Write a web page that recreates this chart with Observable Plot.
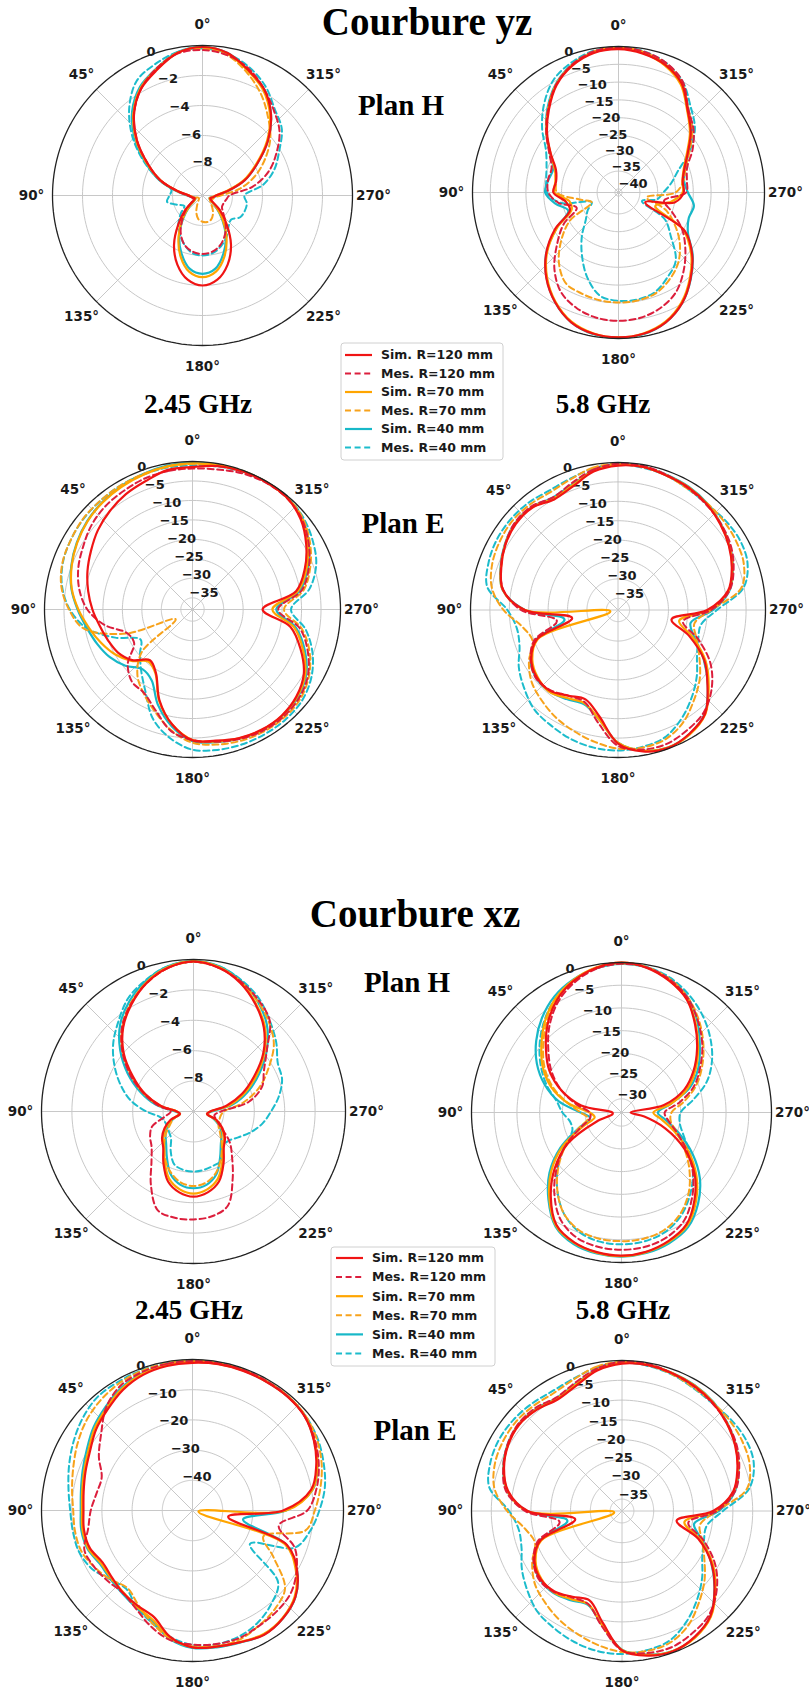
<!DOCTYPE html>
<html>
<head>
<meta charset="utf-8">
<script src="https://cdn.jsdelivr.net/npm/d3@7"></script>
<script src="https://cdn.jsdelivr.net/npm/@observablehq/plot@0.6"></script>
<style>
  body { margin: 0; background: #fff; }
  #page { position: relative; width: 809px; height: 1690px; overflow: hidden; background: #fff; }
  #overlay { position: absolute; left: 0; top: 0; pointer-events: none; }
</style>
</head>
<body>
<div id="page"></div>
<script>
// ---------- categories ----------
const angles = [0,10,20,30,40,50,60,70,80,90,100,110,120,130,140,150,160,170,180,190,200,210,220,230,240,250,260,270,280,290,300,310,320,330,340,350];
const angleTicks = [0,45,90,135,180,225,270,315];
const seriesLabels = ["Sim. R=120 mm","Mes. R=120 mm","Sim. R=70 mm","Mes. R=70 mm","Sim. R=40 mm","Mes. R=40 mm"];

// ---------- Courbure yz, Plan H, 2.45 GHz (dB) ----------
const yzH245_ticks = [0,-2,-4,-6,-8];
const yzH245_min = -10;
const yzH245_sim120 = [-0.1,-0.35,-1.1,-1.8,-2.9,-4.3,-5.8,-7.0,-8.3,-9.1,-9.3,-9.45,-9.3,-8.5,-7.5,-6.2,-5.1,-4.3,-4.0,-4.3,-5.1,-6.2,-7.5,-8.5,-9.3,-9.45,-9.3,-9.1,-8.3,-7.0,-5.8,-4.3,-2.9,-1.8,-1.1,-0.35];
const yzH245_mes120 = [-0.3,-0.4,-1.0,-1.8,-2.9,-4.3,-5.8,-7.0,-8.3,-9.0,-9.3,-9.3,-9.2,-8.6,-7.9,-7.1,-6.5,-6.2,-6.1,-6.2,-6.5,-7.0,-7.6,-8.2,-8.5,-8.5,-8.4,-8.2,-6.6,-5.3,-4.3,-3.3,-2.6,-1.8,-1.0,-0.5];
const yzH245_sim70 = [-0.1,-0.35,-1.05,-1.75,-2.85,-4.25,-5.75,-7.0,-8.3,-9.1,-9.35,-9.5,-9.4,-8.8,-7.9,-6.8,-5.7,-4.85,-4.56,-4.85,-5.7,-6.8,-7.9,-8.8,-9.4,-9.5,-9.35,-9.1,-8.4,-7.1,-5.9,-4.4,-3.0,-1.9,-1.15,-0.4];
const yzH245_mes70 = [-0.2,-0.35,-1.0,-1.75,-2.85,-4.2,-5.7,-7.0,-8.3,-9.1,-9.4,-9.6,-9.7,-9.7,-9.6,-9.3,-8.8,-8.4,-8.25,-8.2,-8.3,-8.6,-9.0,-9.3,-9.4,-9.3,-9.2,-8.8,-7.5,-6.3,-5.2,-4.1,-3.2,-2.2,-1.3,-0.5];
const yzH245_sim40 = [-0.1,-0.3,-1.0,-1.65,-2.7,-4.1,-5.6,-6.9,-8.2,-9.0,-9.3,-9.5,-9.4,-8.85,-8.0,-6.9,-5.9,-5.05,-4.78,-5.05,-5.9,-6.9,-8.0,-8.85,-9.4,-9.5,-9.3,-9.0,-8.3,-7.0,-5.8,-4.3,-2.9,-1.8,-1.1,-0.35];
const yzH245_mes40 = [-0.2,-0.3,-0.7,-1.2,-2.4,-3.9,-5.5,-6.9,-7.9,-7.8,-7.6,-8.2,-8.6,-8.1,-7.5,-7.0,-6.5,-6.1,-6.0,-6.1,-6.4,-6.8,-7.3,-7.5,-7.1,-7.0,-7.0,-7.2,-5.9,-4.9,-4.1,-3.1,-2.5,-1.6,-0.9,-0.4];

// ---------- Courbure yz, Plan H, 5.8 GHz ----------
const yzH58_ticks = [0,-5,-10,-15,-20,-25,-30,-35,-40];
const yzH58_min = -41;
const yzH58_sim120 = [-0.75,-1.2,-3.1,-6.2,-10.6,-14.8,-19,-22.3,-23.2,-22.7,-26,-26.5,-20.4,-14.5,-9.5,-5.4,-2.2,-0.7,-0.3,-0.7,-2.2,-5.2,-9.5,-14,-19.5,-33,-25,-22.7,-22.7,-21.3,-18.5,-14.5,-10.8,-5.6,-2.8,-1.4];
const yzH58_mes120 = [-0.3,-0.8,-2.8,-6.0,-10.3,-14.5,-18.5,-21,-20.9,-21.3,-24,-28.5,-23.2,-18.5,-13,-8.7,-6.5,-5.3,-4.95,-5.3,-6.5,-8.7,-12.5,-16.5,-20.4,-25,-28,-22,-21.5,-20.5,-17,-13.5,-10.5,-5,-2.2,-0.8];
const yzH58_sim70 = [-0.3,-1.0,-2.9,-6.0,-10.3,-14.6,-18.8,-22.0,-23.0,-23.0,-27,-27,-21,-14.8,-9.8,-5.6,-2.4,-0.8,-0.3,-0.8,-2.4,-5.5,-9.8,-14.4,-20,-30,-26,-23,-22.8,-21.5,-18.8,-14.8,-11,-6,-3,-1.2];
const yzH58_mes70 = [-0.2,-0.8,-2.9,-6,-10.3,-14.6,-19,-22,-23.2,-23.7,-29.8,-33,-25.3,-20,-15,-11.5,-10.8,-10.3,-10.1,-10.2,-10.8,-12.6,-15,-18.5,-22.7,-27,-33,-25,-22.5,-21,-18,-14,-10.5,-5.5,-2.6,-0.9];
const yzH58_sim40 = [-0.3,-0.9,-2.8,-5.8,-10,-14.5,-18.7,-21.5,-21,-20.4,-23,-26,-20.8,-14.5,-9.6,-5.4,-2.2,-0.6,-0.2,-0.6,-2.2,-5.2,-9.4,-13.8,-18.5,-20,-19.5,-21.5,-22.3,-21,-18.3,-14,-10.5,-5.5,-2.8,-1.1];
const yzH58_mes40 = [-0.2,-0.6,-2.2,-4.5,-8.5,-13,-17.5,-19.5,-20.4,-20.9,-24.4,-33,-31,-29,-25,-20.5,-15.5,-11.5,-10.6,-10.5,-11.2,-13.5,-16,-21.8,-26,-34,-30,-28.4,-26,-23.2,-18,-13,-9.5,-5,-2.2,-0.7];

// ---------- Courbure yz, Plan E, 2.45 GHz ----------
const yzE245_ticks = [0,-5,-10,-15,-20,-25,-30,-35];
const yzE245_min = -38;
const yzE245_sim120 = [-1.4,-1.6,-2.9,-3.8,-5.0,-6.3,-7.9,-9.3,-10.8,-12.3,-13.8,-14.9,-15.9,-17.8,-21,-19.2,-13.2,-8.0,-4.4,-3.8,-2.9,-2.4,-2.4,-3.2,-5.0,-8.5,-12.5,-20,-11,-7.3,-4.3,-1.8,-0.4,-0.2,-0.3,-0.6];
const yzE245_mes120 = [-1.8,-1.9,-2.2,-2.8,-3.3,-4.2,-5.6,-6.8,-8.5,-11.0,-15.1,-20.2,-20.7,-16.3,-13.8,-13.2,-10.4,-6.3,-4.5,-3.5,-2.6,-2.0,-1.9,-2.4,-3.8,-6.5,-10,-16,-9.5,-6.2,-3.6,-1.5,-0.5,-0.4,-0.8,-1.5];
const yzE245_sim70 = [-0.5,-0.7,-1.2,-1.6,-2.1,-2.8,-3.8,-5.0,-6.5,-8.7,-11.0,-13.0,-15.0,-17.5,-20.5,-19.0,-13.0,-8.0,-4.5,-3.6,-2.8,-2.3,-2.3,-3.0,-4.6,-7.8,-11.5,-17.5,-10.5,-6.8,-3.8,-1.5,-0.4,-0.2,-0.2,-0.3];
const yzE245_mes70 = [-0.6,-0.8,-1.0,-1.2,-1.4,-1.5,-2.0,-2.5,-3.8,-6.3,-9.7,-20,-33,-21,-16,-13,-10,-6.5,-3.8,-2.8,-2.1,-1.7,-1.6,-2.0,-3.5,-6,-9.5,-14.5,-9,-5.8,-3.2,-1.2,-0.3,-0.2,-0.3,-0.5];
const yzE245_sim40 = [-0.3,-0.5,-1.0,-1.4,-2.0,-2.7,-3.7,-4.9,-6.4,-8.5,-10.5,-12.0,-13.5,-15.5,-18.0,-17.0,-12.0,-7.5,-4.2,-3.4,-2.7,-2.2,-2.2,-2.8,-4.3,-7.3,-11,-16.5,-10,-6.5,-3.6,-1.3,-0.3,-0.2,-0.2,-0.3];
const yzE245_mes40 = [-1.0,-1.0,-1.1,-1.2,-1.4,-1.6,-2.0,-2.6,-4.0,-6.5,-10.4,-16.9,-22.6,-20.4,-17.5,-13.8,-8.2,-4.5,-2.0,-1.4,-1.1,-1.0,-1.0,-1.4,-2.8,-5.2,-8.5,-12.7,-7.5,-4.2,-2.4,-1.0,-0.3,-0.2,-0.4,-0.7];

// ---------- Courbure yz, Plan E, 5.8 GHz ----------
const yzE58_ticks = [0,-5,-10,-15,-20,-25,-30,-35];
const yzE58_min = -38;
const yzE58_sim120 = [-0.8,-1.8,-4.1,-5.1,-3.6,-3.6,-4.5,-6.0,-7.9,-14,-26,-15.7,-12.2,-10.8,-10.8,-12.5,-13.5,-10.2,-3.6,-1.0,-0.2,-1.2,-3.1,-7.9,-12.4,-18.5,-24,-15,-9.2,-6.8,-5.0,-3.6,-2.4,-1.6,-1.2,-0.6];
const yzE58_mes120 = [-0.3,-1.3,-3.2,-4.5,-3.2,-3.2,-4.4,-5.9,-8.0,-13,-22,-15,-12,-10.5,-11,-12.5,-12.8,-8.5,-3.0,-1.5,-1.3,-2.3,-3.6,-6.5,-10.5,-16,-21,-14,-8.8,-6.3,-4.5,-3.4,-2.6,-1.8,-1.0,-0.3];
const yzE58_sim70 = [-0.6,-1.6,-3.8,-4.8,-3.5,-3.4,-4.4,-5.9,-7.8,-14,-36,-16,-12.5,-11,-10.5,-11.8,-12.5,-9.5,-3.8,-1.2,-0.3,-1.0,-3.0,-7.5,-12,-17.5,-22,-14.5,-9,-6.6,-4.9,-3.5,-2.3,-1.5,-1.1,-0.5];
const yzE58_mes70 = [-0.3,-0.8,-2.2,-3.0,-2.6,-2.4,-2.8,-3.5,-5.0,-8.5,-13,-14.6,-11.5,-9.0,-7.5,-6.0,-4.8,-3.5,-2.3,-2.0,-2.5,-4.5,-7.6,-10.5,-13.8,-16.5,-18,-14,-5.8,-3.5,-2.8,-2.4,-2.2,-2.0,-1.2,-0.6];
const yzE58_sim40 = [-0.5,-1.5,-3.6,-4.5,-3.4,-3.3,-4.3,-5.8,-7.8,-14,-24,-15.5,-12,-10.6,-10.6,-11.5,-12.2,-9.5,-3.8,-1.2,-0.3,-1.1,-3.2,-7.8,-12.5,-17,-19,-13.5,-8.8,-6.5,-4.8,-3.4,-2.2,-1.4,-1.0,-0.5];
const yzE58_mes40 = [-0.5,-1.0,-2.0,-2.5,-2.0,-1.8,-1.9,-2.5,-3.8,-9.5,-11.5,-11,-8.5,-6.5,-4.5,-3.6,-2.6,-2.0,-1.8,-2.2,-3.0,-5.5,-8.5,-11.5,-14.5,-16,-16.3,-12.5,-5.2,-2.5,-1.8,-2.0,-2.4,-2.0,-1.2,-0.8];

// ---------- Courbure xz, Plan H, 2.45 GHz ----------
const xzH245_ticks = [0,-2,-4,-6,-8];
const xzH245_min = -10;
const xzH245_sim120 = [-0.13,-0.4,-1.0,-1.85,-2.8,-4.0,-5.4,-6.6,-7.8,-8.9,-9.1,-8.4,-7.8,-7.3,-6.9,-6.05,-5.1,-4.6,-4.4,-4.6,-5.1,-6.05,-6.9,-7.3,-7.8,-8.4,-9.1,-8.9,-7.8,-6.6,-5.4,-4.0,-2.8,-1.85,-1.0,-0.4];
const xzH245_mes120 = [-0.15,-0.4,-1.0,-1.8,-2.7,-3.9,-5.2,-6.5,-7.6,-8.5,-8.1,-7.1,-6.7,-6.4,-5.7,-4.4,-3.1,-2.9,-2.9,-3.0,-3.4,-4.85,-6.05,-6.9,-7.9,-8.4,-8.6,-8.2,-6.3,-5.2,-4.65,-3.7,-2.2,-1.5,-0.9,-0.4];
const xzH245_sim70 = [-0.1,-0.35,-0.95,-1.8,-2.75,-3.95,-5.3,-6.5,-7.7,-8.9,-9.1,-8.5,-7.9,-7.4,-7.0,-6.2,-5.3,-4.8,-4.6,-4.8,-5.3,-6.2,-7.0,-7.4,-7.9,-8.5,-9.1,-8.9,-7.6,-6.4,-5.2,-3.9,-2.7,-1.8,-0.95,-0.35];
const xzH245_mes70 = [-0.15,-0.4,-1.0,-1.75,-2.7,-3.9,-5.3,-6.6,-7.8,-8.9,-9.0,-8.6,-8.2,-7.6,-7.0,-6.3,-5.7,-5.25,-5.1,-5.25,-5.7,-6.4,-7.1,-7.7,-8.1,-8.2,-8.2,-8.0,-6.7,-5.4,-4.3,-3.1,-2.3,-1.6,-0.9,-0.4];
const xzH245_sim40 = [-0.1,-0.3,-0.85,-1.6,-2.5,-3.7,-5.0,-6.3,-7.5,-8.8,-9.1,-8.6,-8.0,-7.6,-7.2,-6.5,-5.6,-5.1,-4.95,-5.1,-5.6,-6.5,-7.2,-7.6,-8.0,-8.6,-9.1,-8.8,-7.4,-6.2,-5.0,-3.7,-2.5,-1.6,-0.85,-0.3];
const xzH245_mes40 = [-0.15,-0.3,-0.8,-1.4,-2.3,-3.1,-4.0,-4.9,-5.8,-6.9,-7.8,-8.0,-8.0,-7.9,-7.7,-7.0,-6.3,-6.1,-6.05,-6.1,-6.2,-6.3,-7.0,-7.0,-6.6,-6.0,-5.4,-4.9,-4.3,-3.8,-3.6,-2.9,-2.2,-1.4,-0.8,-0.3];

// ---------- Courbure xz, Plan H, 5.8 GHz ----------
const xzH58_ticks = [0,-5,-10,-15,-20,-25,-30];
const xzH58_min = -33;
const xzH58_sim120 = [0,-0.7,-2.2,-4.5,-7.7,-11.3,-14.7,-19,-24,-31,-31,-27.2,-19.4,-13.8,-8.8,-4.4,-2.6,-1.8,-1.5,-1.9,-2.9,-4.5,-8,-12,-17,-22.7,-27.9,-31,-23.5,-18.3,-14.7,-11.3,-7.8,-4.3,-2.2,-0.7];
const xzH58_mes120 = [-0.3,-0.9,-2.6,-5.0,-8.3,-12,-15.3,-19,-23,-26,-26,-23.5,-19,-14.5,-10,-6,-3.8,-3.0,-2.8,-3.0,-3.8,-5.5,-8.8,-12.5,-16.5,-20,-22.5,-23.5,-20,-16,-13,-9.8,-6.8,-3.9,-1.9,-0.6];
const xzH58_sim70 = [0,-0.6,-2.0,-4.0,-6.8,-10,-13,-16.5,-21,-26,-27,-24,-18,-12.8,-8.3,-4.2,-2.5,-1.7,-1.4,-1.8,-2.7,-4.2,-7.5,-11.5,-16,-20.5,-24,-26,-22,-17.5,-14.2,-11,-7.6,-4.2,-2.1,-0.6];
const xzH58_mes70 = [-0.2,-0.7,-2.3,-4.3,-7.3,-10.5,-13.5,-17,-21,-24,-25.5,-23,-19,-15,-11,-7.5,-5.5,-4.8,-4.7,-4.8,-5.5,-7.2,-10,-13.5,-17,-20,-22,-22,-19,-15.5,-12.5,-9.5,-6.5,-3.8,-1.8,-0.6];
const xzH58_sim40 = [-0.3,-0.8,-1.9,-3.5,-5.8,-8.5,-11.5,-15,-19,-24,-26,-23,-17.5,-12.3,-8,-4.0,-2.2,-1.5,-1.3,-1.6,-2.4,-3.8,-6.8,-10.5,-15,-19.5,-23,-25,-22,-17,-13.5,-10.5,-7,-3.8,-1.8,-0.6];
const xzH58_mes40 = [-0.2,-0.8,-2.2,-4.0,-6.6,-9.5,-12.5,-15.5,-18.5,-20,-21.5,-21.5,-18.5,-14.8,-11,-7.5,-5.2,-4.2,-4.0,-4.2,-5,-6.8,-9.5,-12.5,-15.8,-18.5,-20,-20,-17,-13,-10,-7.5,-5.2,-3.2,-1.5,-0.5];

// ---------- Courbure xz, Plan E, 2.45 GHz ----------
const xzE245_ticks = [0,-10,-20,-30,-40];
const xzE245_min = -50;
const xzE245_sim120 = [-1.1,-1.4,-2.2,-3.9,-6.3,-8.3,-10.8,-12.3,-13.4,-13.9,-13.5,-13.8,-15.6,-15.3,-14.3,-13.6,-12.5,-7.5,-4.7,-4.2,-3.6,-2.5,-3.4,-5.5,-10,-16.7,-38,-20,-10.1,-6.4,-3.6,-1.5,-0.9,-0.9,-0.8,-0.8];
const xzE245_mes120 = [-0.5,-0.7,-1.2,-2.3,-5.5,-10.5,-14.2,-18,-17.7,-16.3,-14.9,-11.9,-12.5,-13.5,-14.3,-12.5,-9.3,-6.5,-5.6,-5.1,-5.0,-5.9,-6.5,-7.5,-10.2,-14,-21,-12,-8.3,-5.5,-3.2,-1.5,-0.8,-0.6,-0.5,-0.5];
const xzE245_sim70 = [-0.8,-1.1,-1.8,-3.4,-5.7,-7.7,-10.2,-11.8,-12.9,-13.4,-13.0,-13.3,-15.0,-15.0,-14.5,-13.2,-11.5,-7.2,-4.8,-4.3,-3.7,-2.8,-3.6,-5.8,-10.5,-17.5,-48,-19,-9.6,-6.0,-3.4,-1.4,-0.8,-0.8,-0.7,-0.7];
const xzE245_mes70 = [-0.3,-0.5,-0.8,-1.4,-2.5,-4.0,-6.0,-8.0,-9.5,-10.5,-10.5,-10.8,-12.5,-14.5,-16.5,-14,-10.5,-7.0,-5.0,-4.3,-4.5,-6,-7.5,-10,-19,-25,-12,-9.5,-7,-4.5,-2.5,-1.2,-0.7,-0.6,-0.5,-0.4];
const xzE245_sim40 = [-0.7,-1.0,-1.6,-3.0,-5.2,-7.2,-9.6,-11.3,-12.5,-13.0,-12.6,-13.0,-14.6,-14.6,-14.0,-12.8,-11.0,-6.8,-4.5,-4.0,-3.5,-2.6,-3.4,-5.5,-10,-17,-33,-19,-9.5,-6.0,-3.5,-1.4,-0.8,-0.8,-0.7,-0.6];
const xzE245_mes40 = [-0.3,-0.4,-0.6,-0.8,-1.0,-2.5,-4.5,-6.5,-8.3,-9.5,-9.8,-10,-11.5,-14.5,-16,-13,-10.5,-7.5,-5.5,-5.0,-5.5,-7,-9.5,-13,-28,-14,-10.5,-8,-5.5,-3.8,-2.2,-1.2,-0.8,-0.6,-0.4,-0.3];

// ---------- Courbure xz, Plan E, 5.8 GHz ----------
const xzE58_ticks = [0,-5,-10,-15,-20,-25,-30,-35];
const xzE58_min = -38;
const xzE58_sim120 = [-0.8,-2.0,-4.3,-5.5,-4.6,-4.1,-4.8,-6.3,-8.8,-14.2,-26,-16,-12.5,-11.2,-11.5,-13,-14,-9.5,-2.8,-0.9,-0.3,-1.3,-3.3,-7.5,-12,-17.5,-24,-15,-9.5,-7.0,-5.0,-3.5,-2.3,-1.5,-1.0,-0.6];
const xzE58_mes120 = [-0.3,-1.5,-3.5,-4.9,-4.0,-3.8,-4.6,-6.1,-8.2,-13.5,-22,-15.3,-12.2,-10.8,-11.3,-12.8,-13,-8.5,-2.8,-1.6,-1.4,-2.4,-3.8,-6.8,-10.8,-16,-21,-14,-9,-6.5,-4.6,-3.4,-2.5,-1.7,-1.0,-0.3];
const xzE58_sim70 = [-0.6,-1.8,-4.0,-5.2,-4.4,-4.0,-4.7,-6.2,-8.6,-14,-36,-16.3,-12.8,-11.4,-11.2,-12.3,-13,-8.8,-2.9,-1.1,-0.4,-1.1,-3.1,-7.2,-11.6,-17,-22,-14.5,-9.3,-6.8,-4.9,-3.4,-2.2,-1.4,-0.9,-0.5];
const xzE58_mes70 = [-0.3,-1.0,-2.6,-3.6,-3.3,-3.0,-3.2,-3.8,-5.3,-9.0,-13,-14.6,-11.8,-9.3,-7.8,-6.3,-5.0,-3.6,-2.4,-2.1,-2.6,-4.6,-7.8,-10.8,-14,-16.5,-18,-14,-6.0,-3.7,-2.9,-2.5,-2.3,-2.0,-1.2,-0.6];
const xzE58_sim40 = [-0.5,-1.7,-3.8,-5.0,-4.3,-3.9,-4.6,-6.1,-8.5,-14,-24,-15.8,-12.3,-11,-11,-12,-12.8,-8.8,-3.0,-1.2,-0.4,-1.2,-3.3,-7.5,-12,-16.5,-19.5,-13.5,-9,-6.7,-4.8,-3.3,-2.1,-1.3,-0.9,-0.5];
const xzE58_mes40 = [-0.5,-1.2,-2.4,-3.0,-2.6,-2.2,-2.1,-2.6,-4.0,-9.5,-11.5,-11,-8.8,-6.8,-4.8,-3.8,-2.8,-2.1,-1.9,-2.3,-3.1,-5.6,-8.6,-11.6,-14.6,-16,-16.3,-12.5,-5.4,-2.6,-1.9,-2.1,-2.5,-2.1,-1.3,-0.8];

// ---------- styles (separate from data) ----------
const seriesColors = ["#f01414", "#dc1e3c", "#ffa500", "#f7a21b", "#17b8c8", "#1cbccc"];
const seriesDash = [null, "6,3.6", null, "6,3.6", null, "6,3.6"];
const seriesWidth = [2.2, 2, 2.2, 2, 2.2, 2];
const drawOrder = [5, 4, 3, 2, 1, 0];

// ---------- panel layout ----------
const panels = [
  {cx: 201.5, cy: 195,    R: 150,   min: yzH245_min, ticks: yzH245_ticks, series: [yzH245_sim120, yzH245_mes120, yzH245_sim70, yzH245_mes70, yzH245_sim40, yzH245_mes40]},
  {cx: 618,   cy: 191.5,  R: 146,   min: yzH58_min,  ticks: yzH58_ticks,  series: [yzH58_sim120, yzH58_mes120, yzH58_sim70, yzH58_mes70, yzH58_sim40, yzH58_mes40]},
  {cx: 191.5, cy: 609,    R: 148,   min: yzE245_min, ticks: yzE245_ticks, series: [yzE245_sim120, yzE245_mes120, yzE245_sim70, yzE245_mes70, yzE245_sim40, yzE245_mes40]},
  {cx: 617.5, cy: 609,    R: 147.5, min: yzE58_min,  ticks: yzE58_ticks,  series: [yzE58_sim120, yzE58_mes120, yzE58_sim70, yzE58_mes70, yzE58_sim40, yzE58_mes40]},
  {cx: 192.5, cy: 1111,   R: 152,   min: xzH245_min, ticks: xzH245_ticks, series: [xzH245_sim120, xzH245_mes120, xzH245_sim70, xzH245_mes70, xzH245_sim40, xzH245_mes40]},
  {cx: 621,   cy: 1111.5, R: 150,   min: xzH58_min,  ticks: xzH58_ticks,  series: [xzH58_sim120, xzH58_mes120, xzH58_sim70, xzH58_mes70, xzH58_sim40, xzH58_mes40]},
  {cx: 191.7, cy: 1509.5, R: 151,   min: xzE245_min, ticks: xzE245_ticks, series: [xzE245_sim120, xzE245_mes120, xzE245_sim70, xzE245_mes70, xzE245_sim40, xzE245_mes40]},
  {cx: 621,   cy: 1510.5, R: 150.5, min: xzE58_min,  ticks: xzE58_ticks,  series: [xzE58_sim120, xzE58_mes120, xzE58_sim70, xzE58_mes70, xzE58_sim40, xzE58_mes40]}
];

const page = document.getElementById("page");
const toXY = (deg, rn) => {
  const t = deg * Math.PI / 180;
  return [-rn * Math.sin(t), rn * Math.cos(t)];
};

function drawPanel(p) {
  const pad = 46;
  const size = Math.round(2 * (p.R + pad));
  const ext = (size / 2) / p.R;
  const norm = v => (v - p.min) / (0 - p.min);

  const rings = [];
  p.ticks.forEach(t => {
    for (let a = 0; a <= 360; a += 2) {
      const [x, y] = toXY(a, norm(t));
      rings.push({t, x, y});
    }
  });
  const spokes = angleTicks.map(a => {
    const [x, y] = toXY(a, 1);
    return {x1: 0, y1: 0, x2: x, y2: y};
  });
  const angLab = angleTicks.map(a => {
    const [x, y] = toXY(a, (p.R + 21) / p.R);
    return {x, y, text: a + "°"};
  });
  const rLab = p.ticks.map(t => {
    const [x, y] = toXY(22.5, norm(t));
    return {x, y, text: t === 0 ? "0" : "\u2212" + Math.abs(t)};
  });

  const marks = [
    Plot.line(rings.filter(d => d.t !== 0), {x: "x", y: "y", z: "t", stroke: "#c8c8c8", strokeWidth: 1}),
    Plot.link(spokes, {x1: "x1", y1: "y1", x2: "x2", y2: "y2", stroke: "#c8c8c8", strokeWidth: 1}),
    Plot.text(rLab, {x: "x", y: "y", text: "text", textAnchor: "start", dx: 1.5, dy: -5.5,
      fontSize: 13, fontWeight: "bold", fill: "#1a1a1a"})
  ];
  drawOrder.forEach(i => {
    const vals = p.series[i];
    const pts = angles.map((a, k) => {
      const [x, y] = toXY(a, norm(vals[k]));
      return {angle: a, db: vals[k], x, y};
    });
    marks.push(Plot.line(pts, {
      x: "x", y: "y", stroke: seriesColors[i], strokeWidth: seriesWidth[i],
      strokeDasharray: seriesDash[i] || undefined, curve: "catmull-rom-closed"
    }));
  });
  marks.push(Plot.line(rings.filter(d => d.t === 0), {x: "x", y: "y", stroke: "#222", strokeWidth: 1.3}));
  marks.push(Plot.text(angLab, {x: "x", y: "y", text: "text", fontSize: 13.5, fontWeight: "bold", fill: "#1a1a1a"}));

  const svg = Plot.plot({
    width: size, height: size, margin: 0,
    x: {domain: [-ext, ext], axis: null},
    y: {domain: [-ext, ext], axis: null},
    style: {background: "transparent", overflow: "visible", fontFamily: "DejaVu Sans"},
    marks
  });
  svg.style.position = "absolute";
  svg.style.left = (p.cx - size / 2) + "px";
  svg.style.top = (p.cy - size / 2) + "px";
  page.appendChild(svg);
}
panels.forEach(drawPanel);

// ---------- titles & legends overlay ----------
const titles = [
  {text: "Courbure yz", x: 427, y: 35,    size: 39},
  {text: "Plan H",      x: 401, y: 115,   size: 29},
  {text: "2.45 GHz",    x: 198, y: 412.7, size: 27},
  {text: "5.8 GHz",     x: 603, y: 412.7, size: 27},
  {text: "Plan E",      x: 403, y: 533,   size: 29},
  {text: "Courbure xz", x: 415, y: 926.5, size: 39},
  {text: "Plan H",      x: 407, y: 991.5, size: 29},
  {text: "2.45 GHz",    x: 189, y: 1318.6, size: 27},
  {text: "5.8 GHz",     x: 623, y: 1318.6, size: 27},
  {text: "Plan E",      x: 415, y: 1440,  size: 29}
];
const legends = [
  {x: 341, y: 343, w: 162, h: 117, row0: 355, step: 18.5, lx: 345, tx: 381},
  {x: 331, y: 1247, w: 164, h: 119, row0: 1258, step: 19.1, lx: 336, tx: 372}
];

const overlay = d3.select(page).append("svg")
  .attr("id", "overlay").attr("width", 809).attr("height", 1690);

overlay.selectAll("text.title").data(titles).join("text")
  .attr("class", "title")
  .attr("x", d => d.x).attr("y", d => d.y)
  .attr("text-anchor", "middle")
  .attr("font-family", "'Liberation Serif', 'Times New Roman', serif")
  .attr("font-weight", "bold")
  .attr("font-size", d => d.size)
  .attr("fill", "#000")
  .text(d => d.text);

legends.forEach(L => {
  const g = overlay.append("g");
  g.append("rect").attr("x", L.x).attr("y", L.y).attr("width", L.w).attr("height", L.h)
    .attr("rx", 3).attr("fill", "#fff").attr("fill-opacity", 0.85)
    .attr("stroke", "#d0d0d0").attr("stroke-width", 1);
  seriesLabels.forEach((lab, i) => {
    const yy = L.row0 + i * L.step;
    g.append("line").attr("x1", L.lx).attr("x2", L.lx + 27).attr("y1", yy).attr("y2", yy)
      .attr("stroke", seriesColors[i]).attr("stroke-width", seriesWidth[i])
      .attr("stroke-dasharray", seriesDash[i]);
    g.append("text").attr("x", L.tx).attr("y", yy).attr("dy", "0.35em")
      .attr("font-family", "'DejaVu Sans', sans-serif").attr("font-weight", "bold")
      .attr("font-size", 12.5).attr("fill", "#1a1a1a").text(lab);
  });
});
</script>
</body>
</html>
